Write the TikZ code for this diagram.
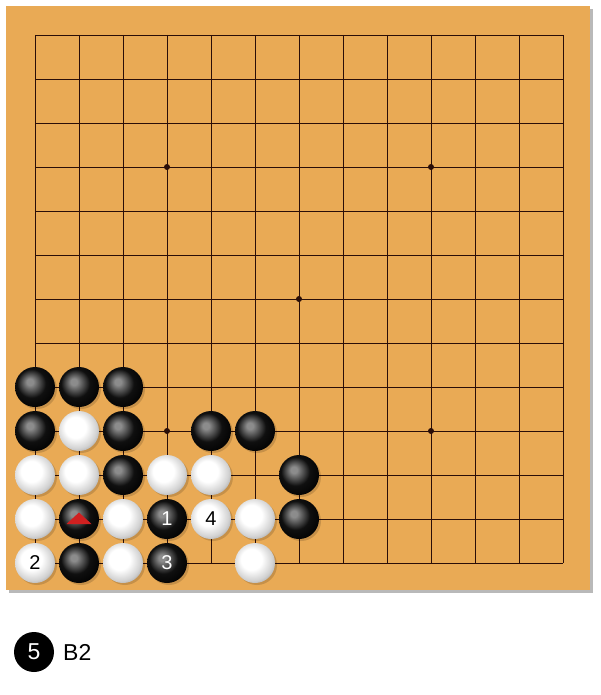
\documentclass[tikz,border=0pt]{standalone}
\usepackage{fontspec}
\setmainfont{Liberation Sans}
\usetikzlibrary{calc, shapes.geometric}
\tikzset{>=latex}
\definecolor{boardwood}{HTML}{E9AA55}
\definecolor{gridline}{HTML}{2A0E08}
\definecolor{marker}{HTML}{D02020}
\pgfdeclareradialshading{blackball}{\pgfpoint{-7bp}{7bp}}{color(0bp)=(black!45); color(4bp)=(black!45);
  color(18bp)=(black!94); color(32bp)=(black); color(50bp)=(black)}
\pgfdeclareradialshading{whiteball}{\pgfpoint{-6bp}{6bp}}{color(0bp)=(white); color(13bp)=(white);
  color(25bp)=(black!18); color(33bp)=(black!40); color(50bp)=(black!40)}
\tikzset{
  stone/.style={circle, minimum size=40pt, inner sep=0pt, font=\fontsize{20}{20}\selectfont},
  bstone/.style={stone, shading=blackball, text=white},
  wstone/.style={stone, shading=whiteball, text=black},
  shade/.style={fill=black, opacity=0.15}
}

\begin{document}
\begin{tikzpicture}[x=1pt, y=-1pt]
\useasboundingbox (0,0) rectangle (600,695);
% board
\fill[gray!55] (9,9) rectangle (593,593);
\fill[boardwood] (6,6) rectangle (590,590);
\begin{scope}[shift={(35,35)}, x=44pt, y=-44pt]
\foreach \i in {0,...,12}
{
  \draw[gridline, line width=0.9pt] (\i,0) -- (\i,12);
  \draw[gridline, line width=0.9pt] (0,\i) -- (12,\i);
}
\foreach \p in {(3,3), (9,3), (6,6), (3,9), (9,9)}
  \fill[gridline] \p circle (3pt);
% stones
\foreach \c/\r/\t in {0/8/, 1/8/, 2/8/, 0/9/, 2/9/, 4/9/, 5/9/, 2/10/, 6/10/,
  1/11/, 3/11/1, 6/11/, 1/12/, 3/12/3}
{
  \fill[shade] ($(\c,\r)+(2pt,-2pt)$) circle (20pt);
  \node[bstone] (b-\c-\r) at (\c,\r) {\t};
}
\foreach \c/\r/\t in {1/9/, 0/10/, 1/10/, 3/10/, 4/10/, 0/11/, 2/11/,
  4/11/4, 5/11/, 0/12/2, 2/12/, 5/12/}
{
  \fill[shade] ($(\c,\r)+(2pt,-2pt)$) circle (20pt);
  \node[wstone] (w-\c-\r) at (\c,\r) {\t};
}
\fill[marker] ($(b-1-11)+(-12.5pt,-5pt)$) -- ($(b-1-11)+(0pt,6.5pt)$)
  -- ($(b-1-11)+(12.5pt,-5pt)$) -- cycle;
\end{scope}
% last move
\node[stone, fill=black, text=white, font=\fontsize{23}{23}\selectfont] (last) at (34,652) {5};
\node[anchor=west, font=\fontsize{23}{23}\selectfont, inner sep=0pt] (pos) at (63,652) {B2};
\end{tikzpicture}
\end{document}
